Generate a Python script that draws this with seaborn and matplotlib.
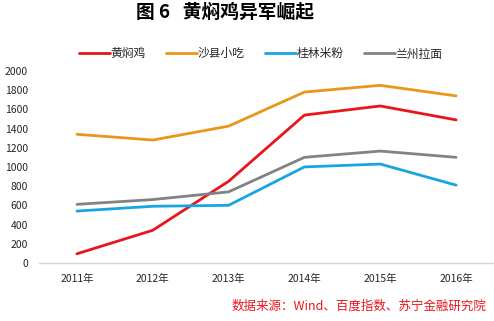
import matplotlib
matplotlib.use("Agg")
import matplotlib.pyplot as plt
import seaborn as sns
import pandas as pd
from matplotlib.lines import Line2D

years = ["2011年", "2012年", "2013年", "2014年", "2015年", "2016年"]
series_names = ["黄焖鸡", "沙县小吃", "桂林米粉", "兰州拉面"]
huangmenji = [95, 340, 850, 1540, 1635, 1490]
shaxian = [1340, 1280, 1425, 1780, 1850, 1740]
guilin = [540, 590, 600, 1000, 1030, 810]
lanzhou = [610, 660, 740, 1100, 1165, 1100]
yticks = [0, 200, 400, 600, 800, 1000, 1200, 1400, 1600, 1800, 2000]

rows = []
for name, vals in zip(series_names, [huangmenji, shaxian, guilin, lanzhou]):
    for i, (yr, v) in enumerate(zip(years, vals)):
        rows.append({"idx": i, "year": yr, "series": name, "value": v})
df = pd.DataFrame(rows)

sns.set_theme(style="white")
plt.rcParams["font.family"] = ["Noto Sans CJK SC", "DejaVu Sans"]

palette = {"黄焖鸡": "#E8161C", "沙县小吃": "#E8961C", "桂林米粉": "#17A5E2", "兰州拉面": "#828282"}

fig = plt.figure(figsize=(4.94, 3.21), dpi=100)
ax = fig.add_axes([0.079, 0.181, 0.921, 0.598])
sns.lineplot(data=df, x="idx", y="value", hue="series", palette=palette,
             hue_order=series_names, linewidth=2.0, ax=ax, legend=False)

ax.set_xlim(-0.5, 5.5)
ax.set_ylim(0, 2000)
ax.set_yticks(yticks)
ax.set_yticklabels([str(t) for t in yticks], fontsize=7.5)
ax.set_xticks(range(len(years)))
ax.set_xticklabels(years, fontsize=7.5)
ax.tick_params(axis="both", length=0)
ax.tick_params(axis="y", pad=8)
ax.tick_params(axis="x", pad=8)
ax.set_xlabel("")
ax.set_ylabel("")
for s in ["top", "right", "left"]:
    ax.spines[s].set_visible(False)
ax.spines["bottom"].set_color("#D9D9D9")
ax.spines["bottom"].set_linewidth(1.0)
ax.grid(False)

handles = [Line2D([0], [0], color=palette[n], lw=2.0) for n in series_names]
fig.legend(handles, series_names, loc="center", bbox_to_anchor=(0.528, 0.832),
           ncol=4, frameon=False, fontsize=8.5, handlelength=2.6, handletextpad=0.1,
           columnspacing=1.7)

fig.text(0.455, 0.962, "图 6   黄焖鸡异军崛起", ha="center", va="center",
         fontsize=13.5, fontweight="bold", color="black")
fig.text(0.985, 0.045, "数据来源：Wind、百度指数、苏宁金融研究院", ha="right", va="center",
         fontsize=9, color="#E8161C", style="italic")

fig.savefig("out.png", dpi=100, facecolor="white")
